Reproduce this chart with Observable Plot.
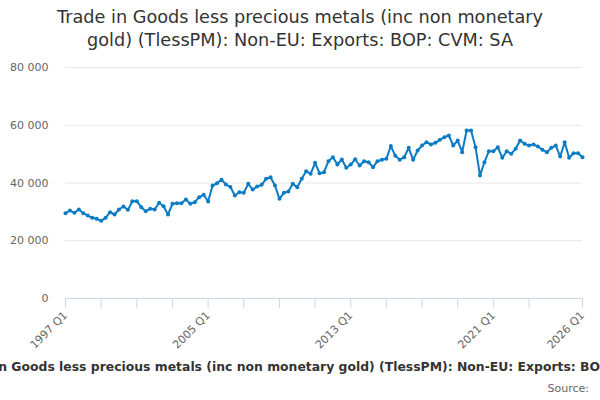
<!DOCTYPE html>
<html>
<head>
<meta charset="utf-8">
<script src="https://cdn.jsdelivr.net/npm/d3@7"></script>
<script src="https://cdn.jsdelivr.net/npm/@observablehq/plot@0.6"></script>
<style>
  body { margin: 0; background: #fff; font-family: "DejaVu Sans", sans-serif; }
  #wrap { width: 600px; height: 400px; position: relative; overflow: hidden; }
  #title { height: 55px; box-sizing: border-box; padding-top: 6px; text-align: center;
           font-size: 17.7px; line-height: 23px; color: #333; }
  #caption { position: relative; height: 16px; margin-top: 4px; overflow: hidden; }
  #caption span { position: absolute; left: 314px; transform: translateX(-50%); white-space: nowrap;
                  font-weight: bold; font-size: 12.4px; line-height: 16px; color: #333; }
  #source { text-align: right; padding-right: 11px; margin-top: 4px; font-size: 11px; line-height: 20px; color: #666; }
</style>
</head>
<body>
<div id="wrap">
  <div id="title">Trade in Goods less precious metals (inc non monetary<br>gold) (TlessPM): Non-EU: Exports: BOP: CVM: SA</div>
  <div id="chart"></div>
  <div id="caption"><span>Trade in Goods less precious metals (inc non monetary gold) (TlessPM): Non-EU: Exports: BOP: CVM: SA</span></div>
  <div id="source">Source:</div>
</div>
<script>
// quarterly values, 1997 Q1 .. 2026 Q1 (£ million)
const startYear = 1997
const exports = [
  29540, 30470, 29680, 30820,   // 1997
  29540, 28740, 27940, 27600,   // 1998
  26900, 27940, 29890, 29090,   // 1999
  30820, 31860, 30700, 33690,   // 2000
  33690, 31620, 30240, 31060,   // 2001
  30820, 33140, 31970, 29090,   // 2002
  32790, 33000, 33000, 34280,   // 2003
  32790, 33350, 35080, 35910,   // 2004
  33600, 39130, 39900, 41150,   // 2005
  39480, 38600, 35670, 36810,   // 2006
  36600, 39710, 37750, 38790,   // 2007
  39370, 41450, 42000, 39130,   // 2008
  34520, 36600, 37050, 39710,   // 2009
  38550, 41450, 44080, 43180,   // 2010
  46990, 43390, 43740, 47550,   // 2011
  48930, 46400, 48140, 45260,   // 2012
  46400, 48240, 46060, 47550,   // 2013
  47200, 45470, 47550, 48030,   // 2014
  48380, 52800, 49400, 48030,   // 2015
  48930, 52190, 48030, 51250,   // 2016
  52980, 54130, 53330, 53920,   // 2017
  54960, 55860, 56450, 52980,   // 2018
  54710, 50660, 58180, 58180,   // 2019
  52400, 42600, 47200, 51010,   // 2020
  51010, 52400, 48720, 51010,   // 2021
  50100, 51840, 54710, 53570,   // 2022
  52980, 53330, 52640, 51490,   // 2023
  50660, 52190, 52980, 49170,   // 2024
  54130, 48720, 50310, 50310,   // 2025
  48930                         // 2026
]
const tickYears = [1997, 1999, 2001, 2003, 2005, 2007, 2009, 2011, 2013, 2015, 2017, 2019, 2021, 2023, 2026]
const labelYears = [1997, 2005, 2013, 2021, 2026]
const yTicks = [0, 20000, 40000, 60000, 80000]

const data = exports.map((v, i) => ({
  t: startYear + i / 4,
  period: `${startYear + Math.floor(i / 4)} Q${(i % 4) + 1}`,
  value: v
}))

const fmt = d => d3.format(",")(d).replace(/,/g, " ")
const blue = "#0a7bc4"

let chart = Plot.plot({
  width: 600,
  height: 300,
  marginLeft: 65,
  marginRight: 18,
  marginTop: 12,
  marginBottom: 57,
  x: {type: "linear", domain: [1997, 2026], axis: null},
  y: {domain: [0, 80000], axis: null},
  style: {fontFamily: "DejaVu Sans", fontSize: 11, background: "#fff"},
  marks: [
    Plot.gridY(yTicks.filter(d => d > 0), {stroke: "#e6e6e6", strokeOpacity: 1}),
    Plot.ruleY([0], {stroke: "#ccd6eb"}),
    Plot.axisY({ticks: yTicks, tickSize: 0, tickPadding: 17, tickFormat: fmt, fill: "#666", label: null}),
    Plot.axisX({ticks: tickYears, tickSize: 10, tickFormat: () => "", stroke: "#ccd6eb", strokeOpacity: 1, label: null}),
    Plot.axisX({ticks: labelYears, tickSize: 0, tickPadding: 15, tickRotate: -45, tickFormat: d => `${d} Q1`,
                fill: "#666", label: null}),
    Plot.line(data, {x: "t", y: "value", stroke: blue, strokeWidth: 2}),
    Plot.dot(data, {x: "t", y: "value", r: 2, fill: blue, stroke: null})
  ]
})
d3.select("#chart").append(() => chart)
</script>
</body>
</html>
